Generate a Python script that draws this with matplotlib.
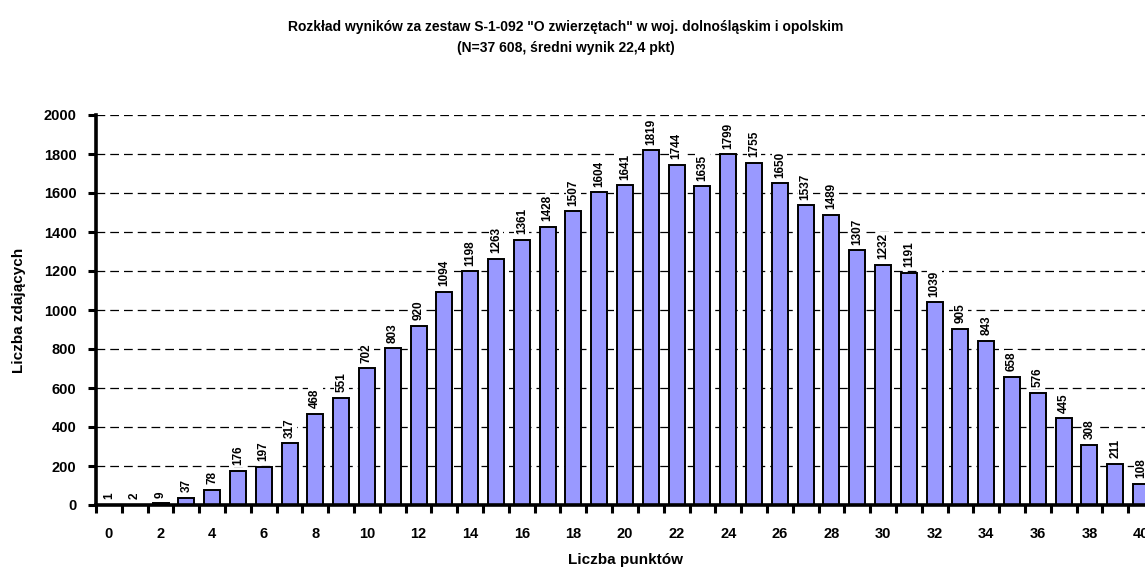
import numpy as np
import matplotlib
matplotlib.use('Agg')
import matplotlib.pyplot as plt

plt.rcParams['font.family'] = ['Liberation Sans', 'DejaVu Sans']

points = list(range(41))
counts = [1, 2, 9, 37, 78, 176, 197, 317, 468, 551, 702, 803, 920, 1094, 1198,
          1263, 1361, 1428, 1507, 1604, 1641, 1819, 1744, 1635, 1799, 1755, 1650,
          1537, 1489, 1307, 1232, 1191, 1039, 905, 843, 658, 576, 445, 308, 211, 108]

title = ('Rozkład wyników za zestaw S-1-092 "O zwierzętach" w woj. dolnośląskim i opolskim\n'
         '(N=37 608, średni wynik 22,4 pkt)')

fig = plt.figure(figsize=(11.45, 5.72), dpi=100)
ax = fig.add_axes([96 / 1145, 1 - 505 / 572, (1154 - 96) / 1145, 390 / 572])

for y in range(200, 2001, 200):
    ax.axhline(y, color='black', linestyle=(0, (7, 4)), linewidth=0.9, zorder=0)

ax.bar(points, counts, width=0.62, color='#9999FF', edgecolor='black', linewidth=1.4, zorder=2)

for x, v in zip(points, counts):
    ax.text(x, v + 28, str(v), rotation=90, ha='center', va='bottom',
            fontsize=8.5, fontweight='bold', zorder=3,
            bbox=dict(facecolor='white', edgecolor='none', pad=1.0))

ax.set_xlim(-0.5, 40.5)
ax.set_ylim(0, 2000)
ax.set_yticks(range(0, 2001, 200))
ax.set_xticks(range(0, 41, 2))
ax.set_xticks(np.arange(-0.5, 41, 1), minor=True)
ax.tick_params(axis='x', which='major', length=0, pad=16, labelsize=10.5)
ax.tick_params(axis='x', which='minor', length=5.5, width=2.2, direction='out')
ax.tick_params(axis='y', length=6, width=2.2, direction='out', labelsize=10.5, pad=8)
for lbl in ax.get_xticklabels() + ax.get_yticklabels():
    lbl.set_fontweight('bold')

for s in ['top', 'right']:
    ax.spines[s].set_visible(False)
for s in ['left', 'bottom']:
    ax.spines[s].set_linewidth(2.6)
    ax.spines[s].set_zorder(4)

ax.set_ylabel('Liczba zdających', fontsize=11, fontweight='bold', labelpad=13)
fig.text(625 / 1145, 1 - 560 / 572, 'Liczba punktów', ha='center', va='center',
         fontsize=11, fontweight='bold')

fig.text(0.494, 0.965, title, ha='center', va='top', fontsize=10, fontweight='bold',
         linespacing=1.6)

fig.savefig('out.png', dpi=100)
